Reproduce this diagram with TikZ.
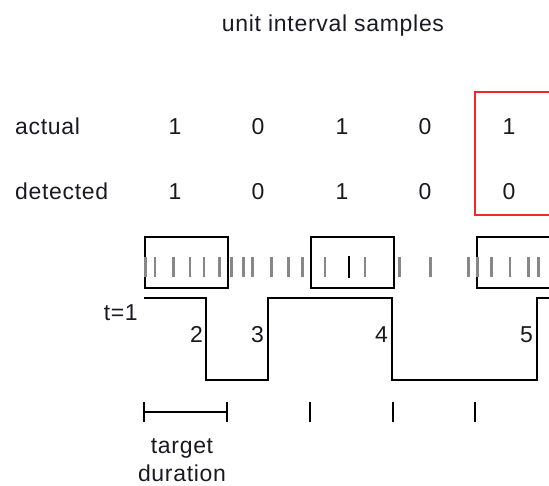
\documentclass[tikz,border=0pt]{standalone}
\usepackage{fontspec}
\setmainfont{Liberation Sans}[LetterSpace=3]
\usetikzlibrary{arrows}

\begin{document}
\begin{tikzpicture}[x=1pt, y=-1pt, >=latex']

\definecolor{tickgray}{RGB}{135, 135, 135}
\definecolor{boxred}{RGB}{240, 40, 40}
\definecolor{inkdark}{RGB}{25, 25, 35}

% Page frame
\useasboundingbox (0,0) rectangle (549,486);
\clip (0,0) rectangle (549,486);

\tikzset{
    label text/.style={
        text=inkdark, inner sep=0pt,
        font=\fontsize{23}{28}\selectfont
    },
    bit/.style={label text, anchor=base},
    ui box/.style={
        draw=black, line width=1.8pt, rectangle,
        minimum width=83pt, minimum height=51pt,
        anchor=north west, inner sep=0pt
    },
    sample tick/.style={draw=tickgray, line width=2.6pt},
    wave/.style={draw=black, line width=1.5pt},
    scale tick/.style={draw=black, line width=1.5pt}
}

% Title
\node[label text, anchor=base] (title) at (333,32) {unit interval samples};

% Row labels
\node[label text, anchor=base west] (actual) at (15,135) {actual};
\node[label text, anchor=base west] (detected) at (15,200) {detected};

% Actual and detected bits
\node[bit] (a1) at (175,135) {1};
\node[bit] (a2) at (258,135) {0};
\node[bit] (a3) at (342,135) {1};
\node[bit] (a4) at (425,135) {0};
\node[bit] (a5) at (509,135) {1};
\node[bit] (d1) at (175,200) {1};
\node[bit] (d2) at (258,200) {0};
\node[bit] (d3) at (342,200) {1};
\node[bit] (d4) at (425,200) {0};
\node[bit] (d5) at (509,200) {0};

% Bit error marker
\draw[boxred, line width=1.8pt] (475,92) rectangle (570,215);

% --- UNIT INTERVAL WINDOWS ---
\node[ui box] (ui1) at (144,236) {};
\node[ui box] (ui2) at (310,236) {};
\node[ui box] (ui3) at (476,236) {};

% Sampling instants
\foreach \x in {145.7,155,173.3,190,204,219.3,231.7,243.3,252.7,271.7,288.3,
                302.7,325,365,399.3,430.7,468.3,477.3,491.7,510,528.3,538.3}
    \draw[sample tick] (\x,257) -- (\x,277);
\draw[black, line width=1.5pt] (349,256) -- (349,278);

% --- RECEIVED WAVEFORM ---
\coordinate (w0) at (144,298);
\coordinate (w1) at (206,380);
\coordinate (w2) at (268,298);
\coordinate (w3) at (392,380);
\coordinate (w4) at (537,298);
\coordinate (w5) at (560,298);
\draw[wave] (w0) -| (w1) -| (w2) -| (w3) -| (w4) -- (w5);

\node[label text, anchor=base east] (t1) at (138,321) {t=1};
\node[label text, anchor=base east] (t2) at (203,343) {2};
\node[label text, anchor=base east] (t3) at (264,343) {3};
\node[label text, anchor=base east] (t4) at (388,343) {4};
\node[label text, anchor=base east] (t5) at (533,343) {5};

% --- TIMING SCALE ---
\coordinate (s0) at (144,412);
\coordinate (s1) at (227,412);
\coordinate (s2) at (310,412);
\coordinate (s3) at (393,412);
\coordinate (s4) at (475,412);
\draw[scale tick] (s0) -- (s1);
\foreach \s in {s0,s1,s2,s3,s4}
    \draw[scale tick] ([yshift=-10pt]\s) -- ([yshift=10pt]\s);

\node[label text, align=center, anchor=north] (target) at (182,438) {target\\duration};

\end{tikzpicture}
\end{document}
